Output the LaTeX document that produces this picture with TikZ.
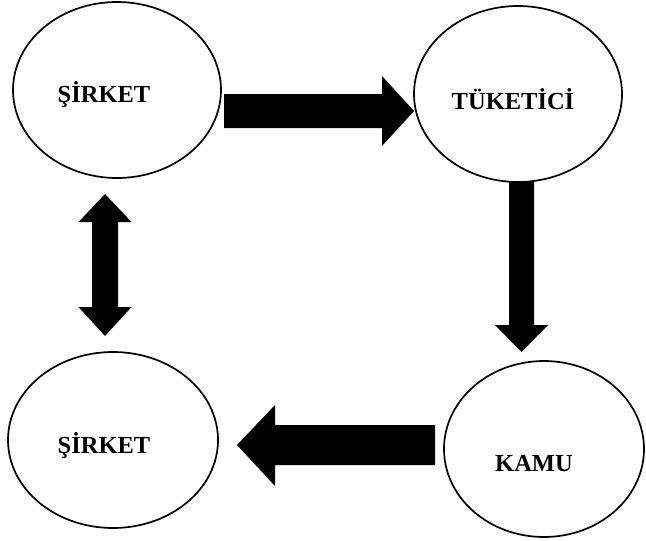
\documentclass[tikz,border=0pt]{standalone}
\usepackage{fontspec}
\setmainfont{Liberation Serif}
\usetikzlibrary{shapes.geometric,calc}
\begin{document}
\begin{tikzpicture}[x=1pt,y=-1pt,
  oval/.style={draw=black, line width=1.7pt, ellipse, inner sep=0pt, minimum height=176pt},
  lbl/.style={font=\bfseries\fontsize{24.5}{28}\selectfont, anchor=base, inner sep=0pt},
  blockarrow/.style={fill=black}]
\useasboundingbox[fill=white] (0,0) rectangle (646,541);

% the four actors
\node[oval, minimum width=208pt] (sirketA) at (117,90) {};
\node[oval, minimum width=208pt] (tuketici) at (518,94) {};
\node[oval, minimum width=210pt] (sirketB) at (113,440) {};
\node[oval, minimum width=200pt] (kamu) at (544,449) {};

\node[lbl] (tA) at (104,102.5) {ŞİRKET};
\node[lbl] (tT) at (513,109) {TÜKETİCİ};
\node[lbl] (tB) at (104,453) {ŞİRKET};
\node[lbl] (tK) at (534,471.5) {KAMU};

% arrow end points
\coordinate (r0) at (224,111);  \coordinate (r1) at (414,111);
\coordinate (d0) at (521.5,182); \coordinate (d1) at (521.5,352);
\coordinate (l0) at (435,445);  \coordinate (l1) at (237,445);
\coordinate (v0) at (105,194);  \coordinate (v1) at (105,336);

% company -> consumer
\fill[blockarrow] ($(r0)+(0,-17)$) -- ($(r1)+(-32,-17)$) -- ($(r1)+(-32,-35)$) -- (r1)
  -- ($(r1)+(-32,35)$) -- ($(r1)+(-32,17)$) -- ($(r0)+(0,17)$) -- cycle;

% consumer -> public
\fill[blockarrow] ($(d0)+(-12.5,0)$) -- ($(d1)+(-12.5,-27)$) -- ($(d1)+(-26.5,-27)$) -- (d1)
  -- ($(d1)+(26.5,-27)$) -- ($(d1)+(12.5,-27)$) -- ($(d0)+(12.5,0)$) -- cycle;

% public -> company
\fill[blockarrow] ($(l0)+(0,-20)$) -- ($(l1)+(38,-20)$) -- ($(l1)+(38,-40)$) -- (l1)
  -- ($(l1)+(38,41)$) -- ($(l1)+(38,20)$) -- ($(l0)+(0,20)$) -- cycle;

% company <-> company
\fill[blockarrow] (v0) -- ($(v0)+(26.5,28)$) -- ($(v0)+(13,28)$) -- ($(v1)+(13,-29)$)
  -- ($(v1)+(26.5,-29)$) -- (v1) -- ($(v1)+(-26.5,-29)$) -- ($(v1)+(-13,-29)$)
  -- ($(v0)+(-13,28)$) -- ($(v0)+(-26.5,28)$) -- cycle;
\end{tikzpicture}
\end{document}
